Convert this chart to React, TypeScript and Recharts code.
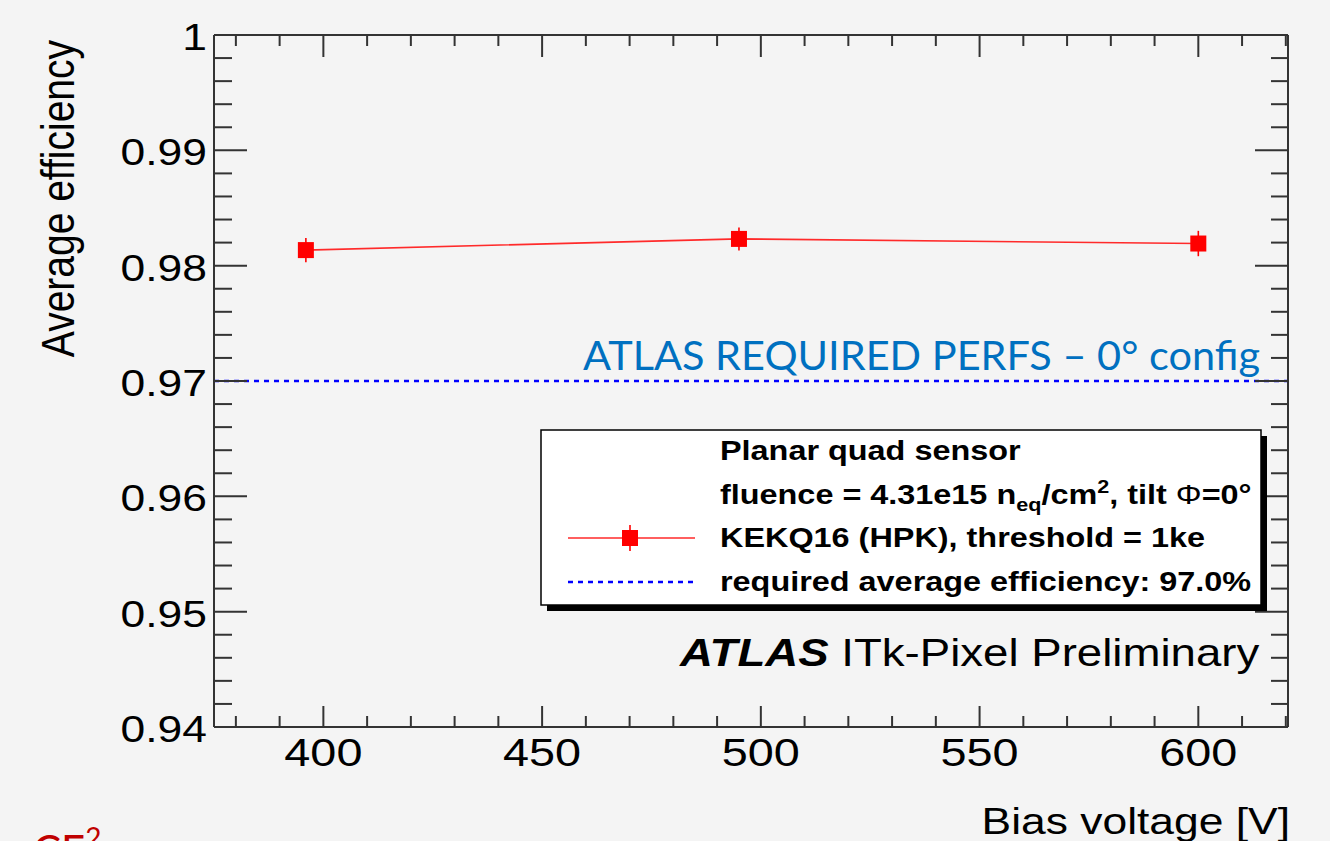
import React from 'react';
import { LineChart, Line, XAxis, YAxis, ReferenceLine, ErrorBar } from 'recharts';

// ---- data ----
const biasVoltages = [396, 495, 600];
const avgEfficiency = [0.98135, 0.98232, 0.98192];
const effErrors = [0.00105, 0.001, 0.0011];

const xMajorTicks = [400, 450, 500, 550, 600];
const xMinorTicks = [380, 390, 410, 420, 430, 440, 460, 470, 480, 490, 510, 520, 530, 540, 560, 570, 580, 590, 610, 620];
const yMajorTicks = [0.94, 0.95, 0.96, 0.97, 0.98, 0.99, 1];
const yTickLabels = ['0.94', '0.95', '0.96', '0.97', '0.98', '0.99', '1'];
const requiredEfficiency = 0.97;

const xDomain: [number, number] = [375, 620.5];
const yDomain: [number, number] = [0.94, 1];

const yMinorTicks: number[] = [];
for (let i = 0; i <= 30; i++) {
  const v = Math.round((0.94 + i * 0.002) * 1000) / 1000;
  if (!yMajorTicks.some((m) => Math.abs(m - v) < 1e-9)) yMinorTicks.push(v);
}
const allXTicks = [...xMajorTicks, ...xMinorTicks].sort((a, b) => a - b);
const allYTicks = [...yMajorTicks, ...yMinorTicks].sort((a, b) => a - b);

const data = biasVoltages.map((v, i) => ({ v, eff: avgEfficiency[i], err: effErrors[i] }));

const FONT = '"Liberation Sans", Arial, Helvetica, sans-serif';
const SX = 1.2;
const AXIS = '#333333';

const isXMajor = (v: number) => xMajorTicks.includes(v);
const isYMajor = (v: number) => yMajorTicks.some((m) => Math.abs(m - v) < 1e-9);

const BottomTick = (p: any) => {
  const { x, y, payload } = p;
  const major = isXMajor(payload.value);
  return (
    <g>
      <line x1={x} x2={x} y1={y} y2={y - (major ? 21 : 11)} stroke={AXIS} strokeWidth={2} />
      {major && (
        <text transform={`translate(${x},${y + 39}) scale(${SX},1)`} textAnchor="middle" fontFamily={FONT} fontSize={39} fill="#000">
          {payload.value}
        </text>
      )}
    </g>
  );
};

const TopTick = (p: any) => {
  const { x, y, payload } = p;
  const major = isXMajor(payload.value);
  return <line x1={x} x2={x} y1={y} y2={y + (major ? 22 : 11)} stroke={AXIS} strokeWidth={2} />;
};

const LeftTick = (p: any) => {
  const { x, y, payload } = p;
  const major = isYMajor(payload.value);
  const idx = yMajorTicks.findIndex((m) => Math.abs(m - payload.value) < 1e-9);
  return (
    <g>
      <line x1={x} x2={x + (major ? 33 : 18)} y1={y} y2={y} stroke={AXIS} strokeWidth={2} />
      {major && (
        <text transform={`translate(${x - 7},${y + 15}) scale(${SX},1)`} textAnchor="end" fontFamily={FONT} fontSize={37} fill="#000">
          {yTickLabels[idx]}
        </text>
      )}
    </g>
  );
};

const RightTick = (p: any) => {
  const { x, y, payload } = p;
  const major = isYMajor(payload.value);
  return <line x1={x} x2={x - (major ? 33 : 17)} y1={y} y2={y} stroke={AXIS} strokeWidth={2} />;
};

const SquareDot = (p: any) => {
  const { cx, cy, index } = p;
  if (cx == null || cy == null) return <g key={index} />;
  return <rect key={index} x={cx - 8} y={cy - 8} width={16} height={16} fill="#ff0000" />;
};

export default function App() {
  return (
    <div style={{ position: 'absolute', left: 0, top: 0, width: 1330, height: 841, background: '#f4f4f4', overflow: 'hidden' }}>
      <LineChart width={1330} height={841} data={data} margin={{ top: 25, right: 32, bottom: 104, left: 204 }}>
        <XAxis xAxisId="b" type="number" dataKey="v" domain={xDomain} allowDataOverflow ticks={allXTicks} interval={0}
          height={10} tickSize={0} tickMargin={0} tick={BottomTick} axisLine={{ stroke: AXIS, strokeWidth: 2 }} tickLine={false} />
        <XAxis xAxisId="t" orientation="top" type="number" dataKey="v" domain={xDomain} allowDataOverflow ticks={allXTicks} interval={0}
          height={10} tickSize={0} tickMargin={0} tick={TopTick} axisLine={{ stroke: AXIS, strokeWidth: 2 }} tickLine={false} />
        <YAxis yAxisId="l" type="number" domain={yDomain} allowDataOverflow ticks={allYTicks} interval={0}
          width={10} tickSize={0} tickMargin={0} tick={LeftTick} axisLine={{ stroke: AXIS, strokeWidth: 2 }} tickLine={false} />
        <YAxis yAxisId="r" orientation="right" type="number" domain={yDomain} allowDataOverflow ticks={allYTicks} interval={0}
          width={10} tickSize={0} tickMargin={0} tick={RightTick} axisLine={{ stroke: AXIS, strokeWidth: 2 }} tickLine={false} />
        <ReferenceLine xAxisId="b" yAxisId="l" y={requiredEfficiency} stroke="#0000ff" strokeWidth={2.5} strokeDasharray="5 5" />
        <Line xAxisId="b" yAxisId="l" dataKey="eff" stroke="#ff2a2a" strokeWidth={1.6} dot={SquareDot} activeDot={false} isAnimationActive={false}>
          <ErrorBar dataKey="err" width={0} stroke="#ff0000" strokeWidth={1.6} direction="y" />
        </Line>
      </LineChart>
      <svg width={1330} height={841} style={{ position: 'absolute', left: 0, top: 0, pointerEvents: 'none' }}>
        {/* axis titles */}
        <text transform={`translate(74,40) scale(${SX},1) rotate(-90)`} textAnchor="end" fontFamily={FONT} fontSize={39} fill="#000">
          Average efficiency
        </text>
        <text transform={`translate(1290,834) scale(${SX},1)`} textAnchor="end" fontFamily={FONT} fontSize={37} fill="#000">
          Bias voltage [V]
        </text>
        {/* annotation */}
        <text x={583} y={370} fontFamily="Lato, 'Open Sans', sans-serif" fontSize={40} fill="#0070c0" textLength={677} lengthAdjust="spacingAndGlyphs">
          ATLAS REQUIRED PERFS – 0° config
        </text>
        {/* legend */}
        <rect x={547} y={436} width={720} height={175} fill="#000" />
        <rect x={541} y={430} width={720} height={175} fill="#fff" stroke="#000" strokeWidth={1.5} />
        <g fontFamily={FONT} fontSize={27} fontWeight="bold" fill="#000">
          <text transform={`translate(720,460) scale(${SX},1)`}>Planar quad sensor</text>
          <text transform={`translate(720,504) scale(${SX},1)`}>
            fluence = 4.31e15 n<tspan fontSize={18} dy={7}>eq</tspan><tspan dy={-7}>/cm</tspan><tspan fontSize={18} dy={-11}>2</tspan><tspan dy={11}>, tilt </tspan><tspan fontWeight="normal">Φ</tspan>=0°
          </text>
          <text transform={`translate(720,547) scale(${SX},1)`}>KEKQ16 (HPK), threshold = 1ke</text>
          <text transform={`translate(720,591) scale(${SX},1)`}>required average efficiency: 97.0%</text>
        </g>
        <line x1={568} x2={695} y1={538} y2={538} stroke="#ff2a2a" strokeWidth={1.6} />
        <line x1={630} x2={630} y1={525} y2={551} stroke="#ff0000" strokeWidth={1.6} />
        <rect x={622} y={530} width={16} height={16} fill="#ff0000" />
        <line x1={568} x2={695} y1={582} y2={582} stroke="#0000ff" strokeWidth={2.5} strokeDasharray="5 5" />
        {/* ATLAS label */}
        <text transform={`translate(680,666) scale(${SX},1)`} fontFamily={FONT} fontSize={38} fill="#000">
          <tspan fontWeight="bold" fontStyle="italic">ATLAS</tspan> ITk-Pixel Preliminary
        </text>
        {/* cut-off slide text */}
        <text x={33} y={866} fontFamily="Lato, sans-serif" fontSize={42} fill="#c00000">CE<tspan fontSize={28} dy={-18}>2</tspan></text>
      </svg>
    </div>
  );
}
